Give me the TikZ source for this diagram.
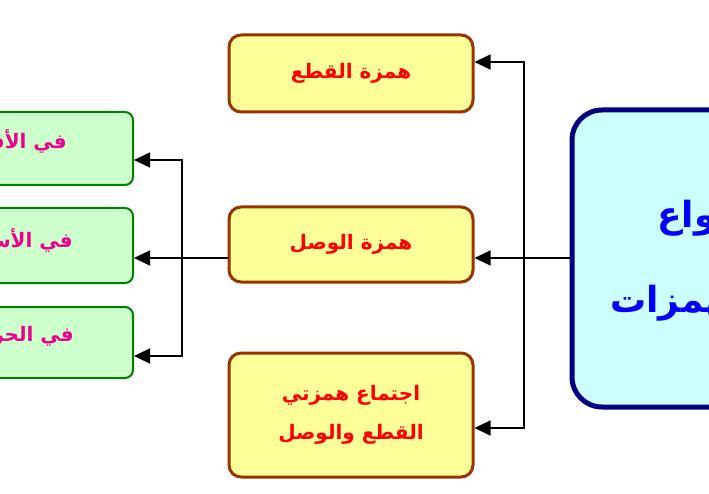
\documentclass[tikz,border=0pt]{standalone}
\usepackage{fontspec}
\usetikzlibrary{arrows.meta}
\newfontfamily\arabicfont[Script=Arabic]{DejaVu Sans}
\TeXXeTstate=1
\definecolor{yfill}{HTML}{FFFF99}
\definecolor{ydraw}{HTML}{993300}
\definecolor{gfill}{HTML}{CCFFCC}
\definecolor{gdraw}{HTML}{008000}
\definecolor{bfill}{HTML}{CCFFFF}
\definecolor{bdraw}{HTML}{000080}
\tikzset{
  ybox/.style={draw=ydraw, fill=yfill, line width=3pt, rounded corners=12pt,
    minimum width=244pt, inner sep=0pt, align=center, text=red,
    font=\arabicfont\bfseries\fontsize{20}{39}\selectfont},
  gbox/.style={draw=gdraw, fill=gfill, line width=2pt, rounded corners=8pt,
    minimum width=244pt, inner sep=0pt},
  gtext/.style={anchor=east, inner sep=0pt, text=magenta,
    font=\arabicfont\bfseries\fontsize{20}{24}\selectfont},
  bbox/.style={draw=bdraw, fill=bfill, line width=5pt, rounded corners=30pt,
    minimum width=258pt, minimum height=297pt, inner sep=0pt},
  btext/.style={anchor=west, inner sep=0pt, text=blue,
    font=\arabicfont\bfseries\fontsize{36}{40}\selectfont},
  conn/.style={line width=1.5pt, black, -{Triangle[length=16pt,width=15pt]}}
}
\begin{document}
\begin{tikzpicture}[x=1pt,y=-1pt]
\useasboundingbox (0,0) rectangle (709,494);
\clip (0,0) rectangle (709,494);
\fill[white] (0,0) rectangle (709,494);
% yellow boxes
\node[ybox, minimum height=77pt] (y1) at (351,73.5) {\beginR همزة القطع\endR};
\node[ybox, minimum height=75pt] (y2) at (351,244.5) {\beginR همزة الوصل\endR};
\node[ybox, minimum height=124pt] (y3) at (351,415) {\beginR اجتماع همزتي\endR\\\beginR القطع والوصل\endR};
% right box
\node[bbox] (R) at (701,258.5) {};
\node[btext] (rt1) at (657,214) {\beginR أنواع\endR};
\node[btext] (rt2) at (610,303) {\beginR الهمزات\endR};
% green boxes
\node[gbox, minimum height=73pt] (g1) at (11,148.5) {};
\node[gbox, minimum height=75pt] (g2) at (11,245.5) {};
\node[gbox, minimum height=71pt] (g3) at (11,342.5) {};
\node[gtext] (gt1) at (67,142) {\beginR في الأفعال\endR};
\node[gtext] (gt2) at (73,240) {\beginR في الأسماء\endR};
\node[gtext] (gt3) at (74,336) {\beginR في الحروف\endR};
% connector coordinates
\coordinate (rtrunk) at (524,258);
\coordinate (ltrunk) at (182,258);
\coordinate (y1in) at (y1.east |- 0,62);
\coordinate (y2in) at (y2.east |- 0,258);
\coordinate (y3in) at (y3.east |- 0,428);
\coordinate (g1in) at (g1.east |- 0,160);
\coordinate (g2in) at (g2.east |- 0,258);
\coordinate (g3in) at (g3.east |- 0,356);
% connectors
\draw[conn] (R.west |- rtrunk) -- (y2in);
\draw[conn] (rtrunk) |- (y1in);
\draw[conn] (rtrunk) |- (y3in);
\draw[conn] (y2.west |- ltrunk) -- (g2in);
\draw[conn] (ltrunk) |- (g1in);
\draw[conn] (ltrunk) |- (g3in);
\end{tikzpicture}
\end{document}
